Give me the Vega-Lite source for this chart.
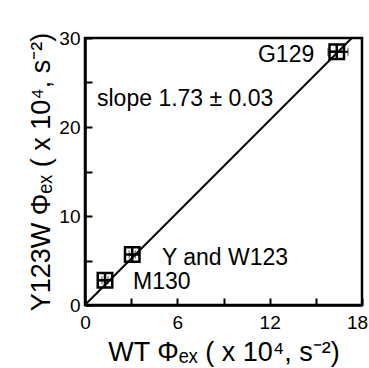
{
  "$schema": "https://vega.github.io/schema/vega-lite/v6.json",
  "width": 277,
  "height": 267,
  "autosize": {"type": "none"},
  "padding": {"left": 85, "top": 38, "right": 7, "bottom": 63},
  "background": "white",
  "config": {
    "view": {"stroke": "black", "strokeWidth": 2.5}
  },
  "layer": [
    {
      "data": {"values": [{"x": 0, "y": 0}, {"x": 17.34, "y": 30}]},
      "mark": {"type": "line", "color": "black", "strokeWidth": 2, "clip": true},
      "encoding": {
        "x": {
          "field": "x", "type": "quantitative",
          "title": "WT Φₑₓ ( x 10⁴, s⁻²)",
          "scale": {"domain": [0, 18], "nice": false, "zero": false},
          "axis": {
            "grid": false,
            "domainColor": "black", "domainWidth": 2.5,
            "tickColor": "black", "tickWidth": 2, "tickSize": -7,
            "values": [0, 3, 6, 9, 12, 15, 18],
            "labelExpr": "datum.value % 6 == 0 ? datum.label : ''",
            "labelFont": "Liberation Sans", "labelFontSize": 19, "labelColor": "black",
            "labelPadding": 15,
            "labelFlush": false,
            "labelOffset": {"condition": {"test": "datum.value == 18", "value": -5}, "value": 0},
            "titleFont": "Liberation Sans", "titleFontSize": 27, "titleFontWeight": "normal", "titleColor": "black",
            "titlePadding": 7
          }
        },
        "y": {
          "field": "y", "type": "quantitative",
          "title": "Y123W Φₑₓ ( x 10⁴, s⁻²)",
          "scale": {"domain": [0, 30], "nice": false, "zero": false},
          "axis": {
            "grid": false,
            "domainColor": "black", "domainWidth": 2.5,
            "tickColor": "black", "tickWidth": 2, "tickSize": -7,
            "values": [0, 5, 10, 15, 20, 25, 30],
            "labelExpr": "datum.value % 10 == 0 ? datum.label : ''",
            "labelFont": "Liberation Sans", "labelFontSize": 19, "labelColor": "black",
            "labelPadding": 12,
            "labelFlush": false,
            "titleFont": "Liberation Sans", "titleFontSize": 27, "titleFontWeight": "normal", "titleColor": "black",
            "titlePadding": 3
          }
        }
      }
    },
    {
      "data": {"values": [
        {"name": "M130", "lo": 1.1, "hi": 1.5, "y": 2.79},
        {"name": "Y and W123", "lo": 2.87, "hi": 3.27, "y": 5.67},
        {"name": "G129", "lo": 15.79, "hi": 17.09, "y": 28.45}
      ]},
      "mark": {"type": "errorbar", "ticks": {"size": 8, "color": "black", "strokeWidth": 2}, "rule": {"color": "black", "strokeWidth": 2}},
      "encoding": {
        "x": {"field": "lo", "type": "quantitative", "title": "WT Φₑₓ ( x 10⁴, s⁻²)"},
        "x2": {"field": "hi"},
        "y": {"field": "y", "type": "quantitative", "title": "Y123W Φₑₓ ( x 10⁴, s⁻²)"}
      }
    },
    {
      "data": {"values": [
        {"name": "M130", "x": 1.3, "y": 2.79},
        {"name": "Y and W123", "x": 3.07, "y": 5.67},
        {"name": "G129", "x": 16.36, "y": 28.45}
      ]},
      "mark": {
        "type": "point",
        "shape": "M-1,-1H1V1H-1Z M0,-1V1 M-1,0H1",
        "filled": false,
        "stroke": "black",
        "strokeWidth": 2.5,
        "size": 210,
        "opacity": 1
      },
      "encoding": {
        "x": {"field": "x", "type": "quantitative", "title": "WT Φₑₓ ( x 10⁴, s⁻²)"},
        "y": {"field": "y", "type": "quantitative", "title": "Y123W Φₑₓ ( x 10⁴, s⁻²)"}
      }
    },
    {
      "data": {"values": [
        {"label": "slope 1.73 ± 0.03", "x": 0.78, "y": 22.4},
        {"label": "G129", "x": 11.24, "y": 27.25},
        {"label": "Y and W123", "x": 5.0, "y": 4.55},
        {"label": "M130", "x": 3.12, "y": 1.85}
      ]},
      "mark": {"type": "text", "align": "left", "baseline": "alphabetic", "fontSize": 23, "font": "Liberation Sans", "color": "black"},
      "encoding": {
        "x": {"field": "x", "type": "quantitative", "title": "WT Φₑₓ ( x 10⁴, s⁻²)"},
        "y": {"field": "y", "type": "quantitative", "title": "Y123W Φₑₓ ( x 10⁴, s⁻²)"},
        "text": {"field": "label"}
      }
    }
  ]
}
